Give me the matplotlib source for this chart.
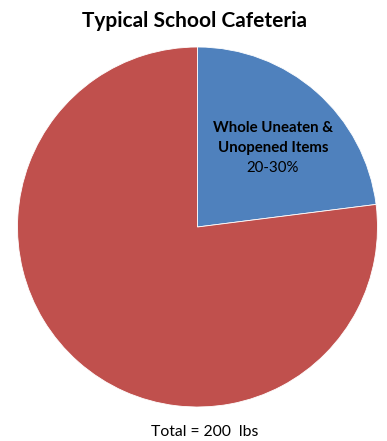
import matplotlib
matplotlib.use('Agg')
import matplotlib.pyplot as plt

# ---------- data ----------
categories = ['Whole Uneaten &\nUnopened Items', 'Other']
shares = [23, 77]
share_label = '20-30%'
colors = ['#4F81BD', '#C0504D']
title = 'Typical School Cafeteria'
footer = 'Total = 200  lbs'

W, H = 387, 441
fig = plt.figure(figsize=(W / 100, H / 100), dpi=100)
fig.patch.set_facecolor('white')

# pie axes placed in pixel coords (center ~ (197, 227), radius ~180)
ax = fig.add_axes([17.5 / W, (H - 407) / H, 360 / W, 360 / H])
ax.pie(shares, colors=colors, startangle=90, counterclock=False,
       wedgeprops=dict(edgecolor='white', linewidth=0.6))
ax.set_aspect('equal')
ax.set_xlim(-1, 1)
ax.set_ylim(-1, 1)

fam = ['Lato', 'DejaVu Sans']
fig.text(194 / W, 1 - 21 / H, title, ha='center', va='center',
         fontsize=15, fontweight='bold', family=fam)

# slice label, one line at a time (20 px apart)
lines = categories[0].split('\n')
for i, line in enumerate(lines):
    fig.text(273 / W, 1 - (128 + 20 * i) / H, line, ha='center', va='center',
             fontsize=10.8, fontweight='bold', family=fam)
fig.text(273 / W, 1 - (128 + 20 * len(lines)) / H, share_label,
         ha='center', va='center', fontsize=10.8, family=fam)

fig.text(205 / W, 1 - 432 / H, footer, ha='center', va='center',
         fontsize=11.3, family=fam)

fig.savefig('out.png', dpi=100)
